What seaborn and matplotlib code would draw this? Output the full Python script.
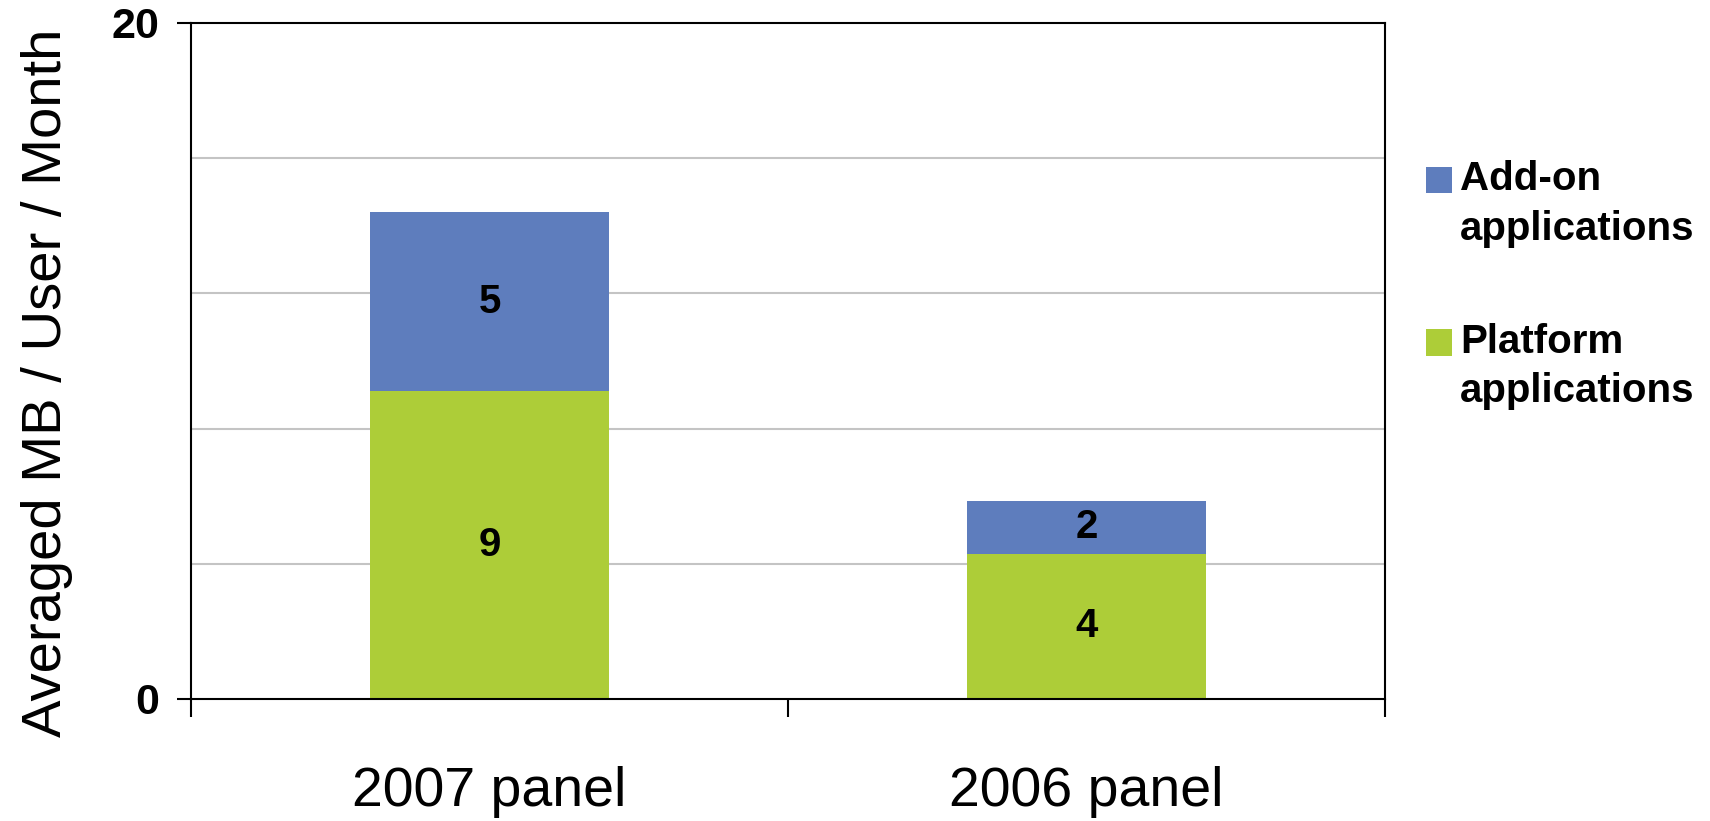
import matplotlib
matplotlib.use("Agg")
import matplotlib.pyplot as plt
from matplotlib.patches import Patch
import numpy as np
import pandas as pd
import seaborn as sns

# Data
panels = ["2007 panel", "2006 panel"]
platform_mb = [9.1, 4.3]
addon_mb = [5.3, 1.55]
series_names = ["Add-on\napplications", "Platform\napplications"]
y_ticks = [0, 20]
y_grid = [4, 8, 12, 16]

BLUE = "#5E7DBD"
GREEN = "#ADCD38"

sns.set_theme(style="white")
plt.rcParams["font.family"] = ["Liberation Sans", "DejaVu Sans"]
plt.rcParams["text.color"] = "black"
plt.rcParams["axes.labelcolor"] = "black"
plt.rcParams["xtick.color"] = "black"
plt.rcParams["ytick.color"] = "black"

df = pd.DataFrame({"panel": panels, "platform": platform_mb, "addon": addon_mb})
df["total"] = df["platform"] + df["addon"]

fig = plt.figure(figsize=(17.10, 8.21), dpi=100)
ax = fig.add_axes([0.1117, 0.1486, 0.6982, 0.8234])

# Stacked bars: total height in blue, platform share drawn over it in green
sns.barplot(data=df, x="panel", y="total", color=BLUE, width=0.40,
            saturation=1, ax=ax, zorder=3, linewidth=0)
sns.barplot(data=df, x="panel", y="platform", color=GREEN, width=0.40,
            saturation=1, ax=ax, zorder=3, linewidth=0)

top_bars, base_bars = ax.containers[0], ax.containers[1]
ax.bar_label(base_bars, labels=[f"{v:.0f}" for v in df["platform"]],
             label_type="center", fontsize=29, fontweight="bold", color="black")
# Add-on label sits in the middle of the blue segment
for rect, base, add in zip(top_bars, df["platform"], df["addon"]):
    ax.text(rect.get_x() + rect.get_width() / 2, base + add / 2, f"{add:.0f}",
            ha="center", va="center", fontsize=29, fontweight="bold",
            color="black", zorder=4)

ax.set_xlim(-0.5, 1.5)
ax.set_ylim(0, 20)

# Axes frame
for side in ["left", "right", "top", "bottom"]:
    ax.spines[side].set_visible(True)
    ax.spines[side].set_color("black")
    ax.spines[side].set_linewidth(1.5)
    ax.spines[side].set_zorder(5)

# Y axis: labelled ticks at 0 and 20, gray gridlines in between
ax.set_yticks(y_ticks)
ax.set_yticklabels([str(v) for v in y_ticks], fontsize=31, fontweight="bold")
ax.set_yticks(y_grid, minor=True)
ax.tick_params(axis="y", which="major", direction="out", length=10, width=1.5,
               pad=13, left=True, colors="black")
ax.tick_params(axis="y", which="minor", length=0)
ax.grid(False)
ax.yaxis.grid(True, which="minor", color="#C4C4C4", linewidth=1.5, zorder=0)
ax.set_axisbelow(True)

# X axis: category labels centered, tick marks on category boundaries
ax.set_xticks([0, 1])
ax.set_xticklabels(panels, fontsize=40)
ax.set_xticks([-0.5, 0.5, 1.5], minor=True)
ax.tick_params(axis="x", which="major", length=0, pad=48, colors="black")
ax.tick_params(axis="x", which="minor", direction="out", length=13, width=1.5,
               bottom=True)
ax.set_xlabel("")

ax.set_ylabel("Averaged MB / User / Month", fontsize=40.5, color="black")
ax.yaxis.set_label_coords(-0.099, 0.467)

# Legend: square swatch level with the first line of each two-line label
LEG_SIZE = 29
LEG_LINESPACING = 1.38
handles = [Patch(facecolor=BLUE, edgecolor="none"),
           Patch(facecolor=GREEN, edgecolor="none")]
leg = fig.legend(handles, series_names, loc="upper left",
                 bbox_to_anchor=(0.8125, 0.849), frameon=False,
                 prop={"size": LEG_SIZE, "weight": "bold"},
                 handlelength=0.65, handleheight=0.65, handletextpad=0.2,
                 labelspacing=1.87)
for txt in leg.get_texts():
    txt.set_linespacing(LEG_LINESPACING)
    txt.set_color("black")
for patch in leg.legend_handles:
    patch.set_y(patch.get_y() + 0.5 * LEG_SIZE * LEG_LINESPACING * 0.89)

fig.savefig("out.png", dpi=100, facecolor="white")
